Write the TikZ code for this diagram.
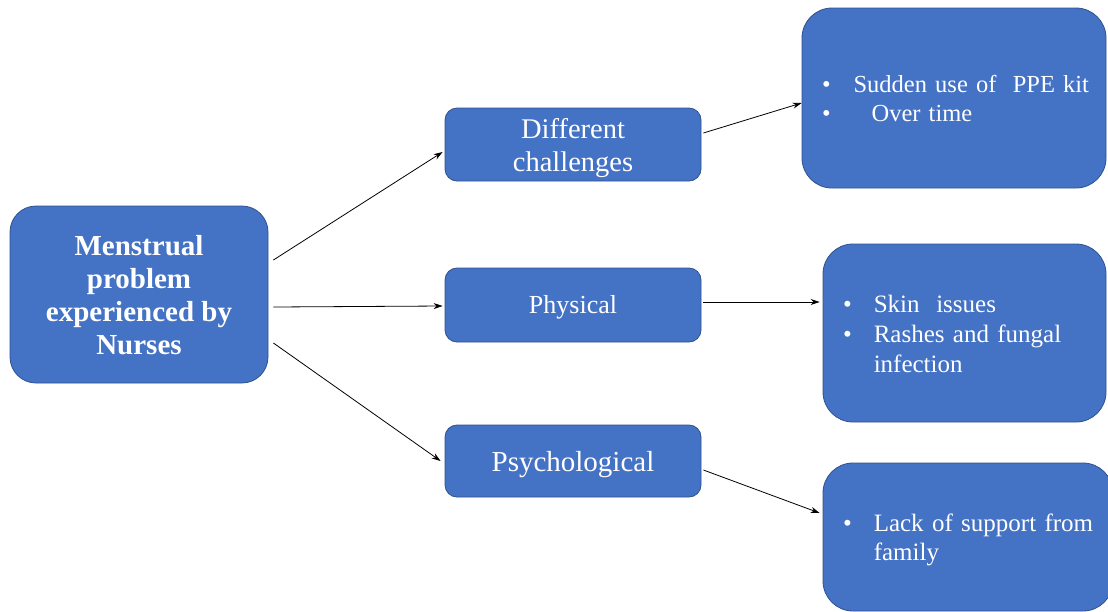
\documentclass[tikz,border=0pt]{standalone}
\usepackage{fontspec}
\setmainfont{Liberation Serif}
\usetikzlibrary{arrows.meta}
\definecolor{boxblue}{HTML}{4472C4}
\definecolor{boxedge}{HTML}{2F528F}
\newcommand{\bul}{\textbullet}
\newcommand{\dropby}[2]{\raisebox{-#1}[\height][\depth]{#2}}
\begin{document}
\begin{tikzpicture}[x=1pt,y=-1pt,
  box/.style={draw=boxedge, line width=0.8pt, fill=boxblue, rounded corners=#1, text=white, inner sep=0pt},
  box/.default=12pt,
  conn/.style={-{Stealth[length=9pt,width=6pt]}, line width=0.8pt, black}]
\useasboundingbox (0,0) rectangle (1108,611);

\node[box=26pt, minimum width=258pt, minimum height=177pt,
      font=\fontsize{29}{33}\selectfont\bfseries] (main) at (139,294.5)
  {\dropby{4pt}{\begin{tabular}{@{}c@{}}Menstrual\\problem\\experienced by\\Nurses\end{tabular}}};

\node[box=12pt, minimum width=256pt, minimum height=73pt,
      font=\fontsize{28.5}{33}\selectfont] (dc) at (573,144.5)
  {\dropby{3.5pt}{\begin{tabular}{@{}c@{}}Different\\challenges\end{tabular}}};
\node[box=12pt, minimum width=256pt, minimum height=74pt,
      font=\fontsize{26}{30}\selectfont] (phys) at (573,305) {\dropby{2pt}{Physical}};
\node[box=12pt, minimum width=256pt, minimum height=72pt,
      font=\fontsize{29}{33}\selectfont] (psych) at (573,461) {\dropby{3.5pt}{Psychological}};

\node[box=30pt, minimum width=304pt, minimum height=180pt, text width=304pt,
      font=\fontsize{24.5}{29}\selectfont] (r1) at (954,98)
  {\hspace*{20pt}\dropby{3pt}{\begin{tabular}{@{}l@{\hspace{23pt}}l@{}}
   \bul & Sudden use of\ \ PPE kit\\
   \bul & \hspace*{18pt}Over time
   \end{tabular}}};
\node[box=30pt, minimum width=283pt, minimum height=178pt, text width=283pt,
      font=\fontsize{25}{30}\selectfont] (r2) at (964.5,333)
  {\hspace*{20pt}\dropby{3pt}{\begin{tabular}{@{}l@{\hspace{22pt}}l@{}}
   \bul & Skin\ \ issues\\
   \bul & Rashes and fungal\\
        & infection
   \end{tabular}}};
\node[box=30pt, minimum width=290pt, minimum height=148pt, text width=290pt,
      font=\fontsize{25}{29}\selectfont] (r3) at (968,537)
  {\hspace*{20pt}\dropby{3pt}{\begin{tabular}{@{}l@{\hspace{22pt}}l@{}}
   \bul & Lack of support from\\
        & family
   \end{tabular}}};

\draw[conn] ([xshift=5pt,yshift=34.5pt]main.east) -- ([xshift=-2pt,yshift=-7.5pt]dc.west);
\draw[conn] ([xshift=5pt,yshift=-12.5pt]main.east) -- ([xshift=-2pt,yshift=-1pt]phys.west);
\draw[conn] ([xshift=5pt,yshift=-48.5pt]main.east) -- ([xshift=-4pt,yshift=0pt]psych.west);
\draw[conn] ([xshift=2pt,yshift=11.5pt]dc.east) -- ([xshift=0pt,yshift=-5pt]r1.west);
\draw[conn] ([xshift=2pt,yshift=3pt]phys.east) -- ([xshift=-3pt,yshift=31pt]r2.west);
\draw[conn] ([xshift=2pt,yshift=-9pt]psych.east) -- ([xshift=-3pt,yshift=24pt]r3.west);
\end{tikzpicture}
\end{document}
